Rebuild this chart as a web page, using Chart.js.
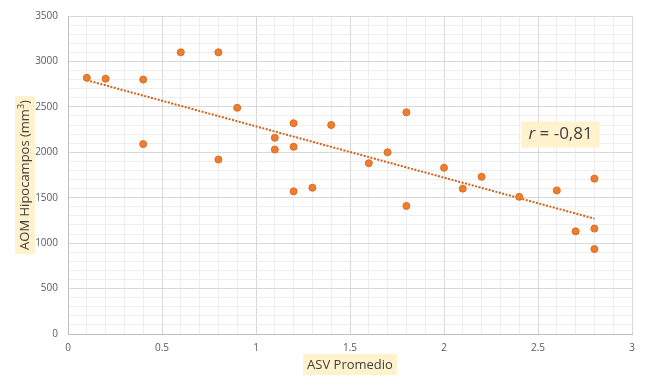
<!DOCTYPE html>
<html>
<head>
<meta charset="utf-8">
<script src="https://cdn.jsdelivr.net/npm/chart.js@4"></script>
<style>
  html, body { margin: 0; padding: 0; background: #fff; }
  #wrap { width: 650px; height: 390px; }
</style>
</head>
<body>
<div id="wrap"><canvas id="asvChart" width="650" height="390"></canvas></div>
<script>
// ASV vs AOM hipocampos scatter
const asvValues = [0.1, 0.2, 0.4, 0.4, 0.6, 0.8, 0.8, 0.9, 1.1, 1.1, 1.2, 1.2, 1.2, 1.3,
    1.4, 1.6, 1.7, 1.8, 1.8, 2.0, 2.1, 2.2, 2.4, 2.6, 2.7, 2.8, 2.8, 2.8];
const aomValues = [2820, 2810, 2800, 2090, 3100, 3100, 1920, 2490, 2160, 2030, 2320, 2060, 1570, 1610,
    2300, 1880, 2000, 2440, 1410, 1830, 1600, 1730, 1510, 1580, 1130, 1710, 1160, 935];
const xTickLabels = ['0', '0.5', '1', '1.5', '2', '2.5', '3'];
const yTickLabels = ['0', '500', '1000', '1500', '2000', '2500', '3000', '3500'];
const rLabel = '-0,81';

const FONT = "'Open Sans', sans-serif";

// least squares line from the data
function linearFit(xs, ys) {
    const n = xs.length;
    const mx = xs.reduce((a, b) => a + b, 0) / n;
    const my = ys.reduce((a, b) => a + b, 0) / n;
    let sxy = 0, sxx = 0;
    for (let i = 0; i < n; i++) {
        sxy += (xs[i] - mx) * (ys[i] - my);
        sxx += (xs[i] - mx) * (xs[i] - mx);
    }
    const slope = sxy / sxx;
    return { slope: slope, intercept: my - slope * mx };
}

const fit = linearFit(asvValues, aomValues);
const xMin = Math.min(...asvValues);
const xMax = Math.max(...asvValues);
const trendPoints = [
    { x: xMin, y: fit.intercept + fit.slope * xMin },
    { x: xMax, y: fit.intercept + fit.slope * xMax }
];
const scatterPoints = asvValues.map((x, i) => ({ x: x, y: aomValues[i] }));

function labelBox(ctx, text, cx, cy, font, rotate) {
    ctx.save();
    ctx.translate(cx, cy);
    if (rotate) ctx.rotate(-Math.PI / 2);
    ctx.font = font;
    const w = ctx.measureText(text).width;
    ctx.fillStyle = '#fff2cc';
    ctx.fillRect(-w / 2 - 4, -11, w + 8, 21);
    ctx.fillStyle = '#404040';
    ctx.textAlign = 'center';
    ctx.textBaseline = 'middle';
    ctx.fillText(text, 0, 0);
    ctx.restore();
}

const labelsPlugin = {
    id: 'labelsPlugin',
    afterDraw(chart) {
        const ctx = chart.ctx;
        const area = chart.chartArea;
        const xs = chart.scales.x, ys = chart.scales.y;
        labelBox(ctx, 'ASV Promedio', (area.left + area.right) / 2, 365, '13px ' + FONT, false);

        // y title with superscript
        ctx.save();
        ctx.translate(25, (area.top + area.bottom) / 2);
        ctx.rotate(-Math.PI / 2);
        ctx.font = '13px ' + FONT;
        const part1 = 'AOM Hipocampos (mm';
        const part3 = ')';
        const w1 = ctx.measureText(part1).width;
        ctx.font = '9px ' + FONT;
        const w2 = ctx.measureText('3').width;
        ctx.font = '13px ' + FONT;
        const w3 = ctx.measureText(part3).width;
        const total = w1 + w2 + w3;
        ctx.fillStyle = '#fff2cc';
        ctx.fillRect(-total / 2 - 4, -10, total + 8, 20);
        ctx.fillStyle = '#404040';
        ctx.textBaseline = 'middle';
        ctx.textAlign = 'left';
        let x0 = -total / 2;
        ctx.fillText(part1, x0, 0);
        ctx.font = '9px ' + FONT;
        ctx.fillText('3', x0 + w1, -4);
        ctx.font = '13px ' + FONT;
        ctx.fillText(part3, x0 + w1 + w2, 0);
        ctx.restore();

        // r annotation
        const cx = xs.getPixelForValue(2.62);
        const cy = ys.getPixelForValue(2195);
        ctx.save();
        ctx.font = 'italic 17px ' + FONT;
        const rw = ctx.measureText('r').width;
        ctx.font = '17px ' + FONT;
        const rest = ' = ' + rLabel;
        const restW = ctx.measureText(rest).width;
        const tw = rw + restW;
        ctx.fillStyle = '#fff2cc';
        ctx.fillRect(cx - tw / 2 - 7, cy - 13, tw + 14, 26);
        ctx.fillStyle = '#404040';
        ctx.textBaseline = 'middle';
        ctx.textAlign = 'left';
        ctx.font = 'italic 17px ' + FONT;
        ctx.fillText('r', cx - tw / 2, cy);
        ctx.font = '17px ' + FONT;
        ctx.fillText(rest, cx - tw / 2 + rw, cy);
        ctx.restore();
    }
};

const ctx = document.getElementById('asvChart').getContext('2d');
new Chart(ctx, {
    type: 'scatter',
    data: {
        datasets: [{
            label: 'AOM',
            data: scatterPoints,
            backgroundColor: '#ed7d31',
            borderColor: '#e06c1c',
            borderWidth: 1,
            pointRadius: 3.5,
            order: 1
        }, {
            label: 'Tendencia',
            type: 'line',
            data: trendPoints,
            borderColor: '#d2601a',
            borderWidth: 2,
            borderDash: [2, 1.5],
            pointRadius: 0,
            fill: false,
            order: 2
        }]
    },
    options: {
        responsive: false,
        animation: false,
        layout: { padding: { left: 0, right: 18, top: 15, bottom: 0 } },
        plugins: { legend: { display: false }, tooltip: { enabled: false } },
        scales: {
            x: {
                type: 'linear',
                min: 0, max: 3,
                afterFit(scale) { scale.height = 56; },
                border: { display: true, color: '#bfbfbf', width: 1 },
                grid: {
                    drawTicks: false,
                    color: (c) => Math.abs(c.tick.value * 2 - Math.round(c.tick.value * 2)) < 1e-6 ? '#d9d9d9' : '#eeeeee',
                    lineWidth: 1
                },
                ticks: {
                    stepSize: 0.1,
                    autoSkip: false,
                    maxRotation: 0,
                    padding: 8,
                    color: '#595959',
                    font: { family: FONT, size: 10 },
                    callback: (v) => {
                        const k = Math.round(v * 2);
                        return Math.abs(v * 2 - k) < 1e-6 ? xTickLabels[k] : '';
                    }
                }
            },
            y: {
                min: 0, max: 3500,
                afterFit(scale) { scale.width = 68; },
                border: { display: true, color: '#bfbfbf', width: 1 },
                grid: {
                    drawTicks: false,
                    color: (c) => c.tick.value % 500 === 0 ? '#d9d9d9' : '#eeeeee',
                    lineWidth: 1
                },
                ticks: {
                    stepSize: 100,
                    autoSkip: false,
                    padding: 10,
                    color: '#595959',
                    font: { family: FONT, size: 10 },
                    callback: (v) => v % 500 === 0 ? yTickLabels[v / 500] : ''
                }
            }
        }
    },
    plugins: [labelsPlugin]
});
</script>
</body>
</html>
